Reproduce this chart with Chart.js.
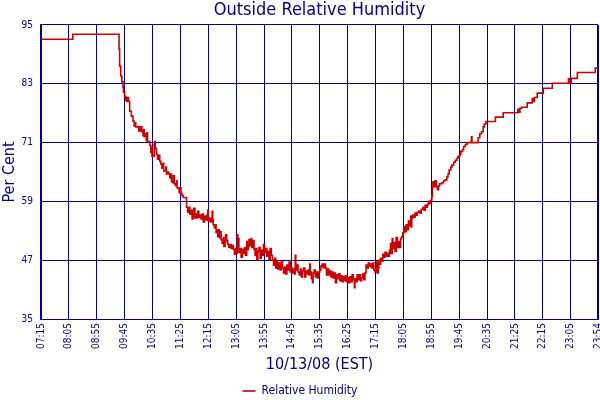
<!DOCTYPE html>
<html>
<head>
<meta charset="utf-8">
<script src="https://cdn.jsdelivr.net/npm/chart.js@4.4.1/dist/chart.umd.min.js"></script>
<style>
html,body{margin:0;padding:0;background:#fff;}
#wrap{width:600px;height:400px;}
</style>
</head>
<body>
<div id="wrap"><canvas id="c" width="600" height="400"></canvas></div>
<script>
// Minutes after midnight on 10/13/08 (EST)
const minutes = [
435,492,575,576,578,580,582,583,585,587,588,589,591,592,594,597,600,602,604,605,
610,611,613,615,616,618,619,620,622,624,625,626,630,632,633,634,638,639,640,642,
644,646,648,650,652,654,655,659,660,662,664,666,667,669,671,672,674,676,678,679,
681,683,684,686,688,690,696,698,700,702,704,706,708,709,711,713,715,716,718,720,
722,724,726,728,730,733,734,735,737,739,741,742,743,744,746,748,749,751,752,754,
755,757,758,760,762,763,765,766,768,770,772,774,776,778,780,782,784,786,787,788,
789,790,792,794,796,798,800,802,804,805,807,808,810,812,813,815,817,819,820,822,
824,826,828,830,832,834,836,838,840,842,844,846,848,850,852,854,856,858,860,862,
864,866,868,870,872,874,876,878,880,882,884,886,888,890,891,892,894,896,898,900,
902,904,906,908,910,912,914,916,917,918,920,922,923,925,927,929,931,933,935,937,
939,941,943,945,947,949,951,953,955,957,959,961,963,965,967,969,971,973,975,977,
979,981,983,985,987,989,991,993,995,997,998,1000,1002,1004,1006,1008,1010,1012,1014,1016,
1018,1020,1022,1024,1026,1028,1030,1032,1034,1036,1037,1038,1040,1041,1042,1044,1046,1048,1050,1052,
1054,1056,1058,1060,1062,1063,1065,1066,1068,1070,1072,1074,1076,1078,1080,1082,1084,1086,1088,1090,
1092,1094,1096,1098,1099,1100,1102,1104,1106,1108,1110,1112,1115,1117,1120,1122,1124,1126,1128,1130,
1132,1134,1136,1137,1138,1140,1142,1144,1146,1148,1150,1154,1157,1160,1163,1165,1167,1170,1172,1175,
1178,1181,1183,1186,1188,1191,1193,1196,1199,1207,1208,1219,1222,1225,1228,1230,1233,1250,1264,1290,
1292,1294,1297,1307,1316,1318,1320,1325,1336,1352,1381,1384,1386,1397,1429,1434
];
const humidity = [
92.1,93.1,90.1,86.6,84.6,83.4,82.3,81.3,80.4,79.6,80.2,79.4,80.2,79.4,77.4,76.4,75.4,74.4,75.0,74.2,
73.4,74.2,73.4,74.2,73.2,72.4,73.6,72.2,72.8,71.4,73.0,71.2,70.4,69.0,70.0,68.2,70.6,71.2,69.8,68.6,
67.6,68.4,67.2,66.6,65.8,66.8,65.2,66.0,64.6,65.0,64.6,63.8,64.6,63.0,62.8,64.2,62.6,62.2,63.2,61.8,
61.6,60.8,61.8,60.6,60.2,59.8,57.8,56.8,57.8,56.4,57.2,55.4,56.6,57.6,55.6,56.4,55.6,57.0,55.8,56.2,
55.4,56.4,54.8,56.0,55.2,56.2,57.2,55.0,55.6,54.8,55.4,57.0,55.2,54.2,53.6,54.2,52.6,53.2,51.8,53.2,
51.6,52.8,51.2,50.4,51.6,49.8,50.6,52.2,51.0,50.2,49.6,50.2,49.4,50.0,49.2,48.2,49.4,48.4,52.2,49.8,
51.4,48.6,49.4,47.6,49.2,48.4,49.6,48.0,50.8,49.2,49.8,51.2,50.0,51.4,49.6,51.0,49.2,48.0,49.4,47.2,
48.8,49.6,47.4,49.0,48.0,50.2,48.6,49.4,47.8,48.8,47.2,49.4,48.0,47.0,46.0,47.4,45.4,46.6,45.2,46.4,
45.0,46.8,45.4,44.4,45.6,44.2,46.0,45.0,46.6,44.6,45.4,44.4,45.2,44.2,48.0,45.0,46.0,44.6,44.0,45.2,
43.6,44.8,45.4,43.6,44.8,44.2,45.0,44.0,46.2,44.6,43.2,42.4,44.4,45.0,43.6,44.6,43.4,44.6,45.0,45.8,
46.2,45.4,46.2,45.4,44.0,45.2,44.0,44.8,43.6,44.6,43.4,44.4,42.4,44.0,43.2,44.2,42.8,43.8,42.6,43.6,
42.8,43.8,42.6,43.4,42.4,43.6,42.6,44.0,43.0,41.4,43.2,42.6,44.0,43.0,44.0,42.8,43.4,44.2,43.0,44.4,
46.0,45.4,46.4,45.8,46.2,45.4,46.4,45.0,44.6,45.6,46.6,44.4,45.4,47.0,46.2,47.4,46.8,48.2,47.6,48.6,
47.8,48.4,47.8,49.0,50.4,48.4,51.4,49.4,50.6,48.8,51.6,49.6,50.8,49.6,51.4,51.8,52.6,53.8,52.8,54.2,
53.2,55.0,54.0,56.0,53.8,55.6,56.2,55.8,56.6,56.2,56.8,57.0,56.6,57.4,57.8,57.2,58.2,57.8,58.4,59.0,
58.6,59.2,60.0,62.0,63.0,62.0,63.2,62.0,61.4,62.2,62.6,62.8,63.2,63.4,64.0,64.6,65.4,66.0,66.4,67.0,
67.4,67.8,68.2,68.6,69.2,69.6,70.2,70.6,71.0,72.2,71.0,72.0,72.8,73.2,74.2,74.8,75.3,76.2,77.1,77.8,
77.2,78.0,78.2,79.1,80.0,79.4,80.2,81.1,82.1,83.1,84.0,83.2,84.1,85.3,86.2,86.2
];
const tickLabels = ["07:15","08:05","08:55","09:45","10:35","11:25","12:15","13:05","13:55","14:45",
  "15:35","16:25","17:15","18:05","18:55","19:45","20:35","21:25","22:15","23:05","23:54"];
const yTicks = [35,47,59,71,83,95];
const seriesName = "Relative Humidity";
const chartTitle = "Outside Relative Humidity";
const xTitle = "10/13/08 (EST)";
const yTitle = "Per Cent";

const toMin = s => { const p = s.split(":"); return (+p[0]) * 60 + (+p[1]); };
const tickMinutes = tickLabels.map(toMin);

const NAVY = "#000080";
const RED = "#cc0000";
const FONT = "'DejaVu Sans Condensed','DejaVu Sans',sans-serif";

new Chart(document.getElementById("c"), {
  type: "line",
  data: {
    datasets: [{
      label: seriesName,
      data: minutes.map((m, i) => ({x: m, y: humidity[i]})),
      borderColor: RED,
      backgroundColor: RED,
      borderWidth: 1.6,
      pointRadius: 0,
      stepped: true,
      fill: false
    }]
  },
  options: {
    responsive: false,
    animation: false,
    layout: {padding: 0},
    plugins: {
      title: {
        display: true, text: chartTitle, color: NAVY, fullSize: false,
        font: {family: FONT, size: 18, weight: "normal"},
        padding: {top: 0, bottom: 3.4}
      },
      legend: {
        position: "bottom",
        maxHeight: 16,
        labels: {
          color: NAVY, font: {family: FONT, size: 12},
          usePointStyle: true, pointStyle: "line", pointStyleWidth: 13,
          padding: 1
        }
      },
      tooltip: {enabled: false}
    },
    scales: {
      x: {
        type: "linear",
        min: tickMinutes[0],
        max: tickMinutes[tickMinutes.length - 1],
        afterBuildTicks: s => { s.ticks = tickMinutes.map(v => ({value: v})); },
        ticks: {
          autoSkip: false, maxRotation: 90, minRotation: 90, padding: 4,
          color: NAVY, font: {family: FONT, size: 10},
          callback: (v, i) => tickLabels[i]
        },
        grid: {
          color: NAVY, drawTicks: false,
          lineWidth: c => (c.index === tickLabels.length - 1 ? 2 : 1)
        },
        border: {color: NAVY, width: 1},
        title: {
          display: true, text: xTitle, color: NAVY,
          font: {family: FONT, size: 16}, padding: {top: 0, bottom: 9.4}
        },
        afterFit: s => { s.height = 65; s.paddingRight = 2; s.paddingLeft = 0; }
      },
      y: {
        min: yTicks[0], max: yTicks[yTicks.length - 1],
        afterBuildTicks: s => { s.ticks = yTicks.map(v => ({value: v})); },
        ticks: {padding: 8, color: NAVY, font: {family: FONT, size: 10}},
        grid: {color: NAVY, drawTicks: false},
        border: {color: NAVY, width: 2},
        title: {
          display: true, text: yTitle, color: NAVY,
          font: {family: FONT, size: 16}, padding: 0
        },
        afterFit: s => { s.width = 41; }
      }
    }
  }
});
</script>
</body>
</html>
